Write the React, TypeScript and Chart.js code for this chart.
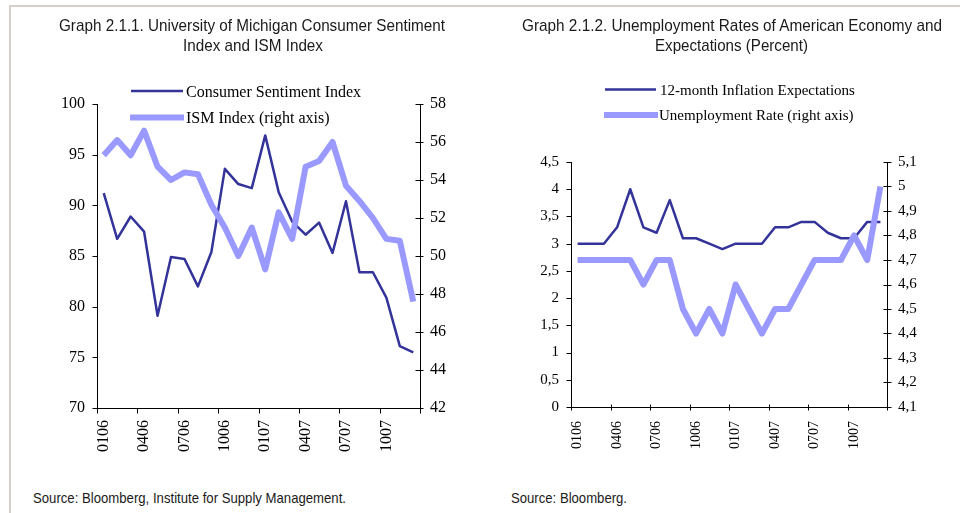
import React, { useEffect, useLayoutEffect, useRef } from "react";
import { Chart, registerables } from "chart.js";

Chart.register(...registerables);

// ---------- data ----------
const months = [
  "0106", "0206", "0306", "0406", "0506", "0606", "0706", "0806", "0906", "1006", "1106", "1206",
  "0107", "0207", "0307", "0407", "0507", "0607", "0707", "0807", "0907", "1007", "1107", "1207",
];
const consumerSentiment = [
  91.2, 86.7, 88.9, 87.4, 79.1, 84.9, 84.7, 82.0, 85.4, 93.6, 92.1, 91.7,
  96.9, 91.3, 88.4, 87.1, 88.3, 85.3, 90.4, 83.4, 83.4, 80.9, 76.1, 75.5,
];
const ismIndex = [
  55.3, 56.1, 55.3, 56.6, 54.7, 54.0, 54.4, 54.3, 52.7, 51.5, 50.0, 51.5,
  49.3, 52.3, 50.9, 54.7, 55.0, 56.0, 53.7, 52.9, 52.0, 50.9, 50.8, 47.6,
];
const inflationExpectations = [
  3.0, 3.0, 3.0, 3.3, 4.0, 3.3, 3.2, 3.8, 3.1, 3.1, 3.0, 2.9,
  3.0, 3.0, 3.0, 3.3, 3.3, 3.4, 3.4, 3.2, 3.1, 3.1, 3.4, 3.4,
];
const unemploymentRate = [
  4.7, 4.7, 4.7, 4.7, 4.7, 4.6, 4.7, 4.7, 4.5, 4.4, 4.5, 4.4,
  4.6, 4.5, 4.4, 4.5, 4.5, 4.6, 4.7, 4.7, 4.7, 4.8, 4.7, 5.0,
];

const leftTitle = ["Graph 2.1.1. University of Michigan Consumer Sentiment", "Index and ISM Index"];
const rightTitle = ["Graph 2.1.2. Unemployment Rates of American Economy and", "Expectations (Percent)"];
const leftSource = "Source: Bloomberg, Institute for Supply Management.";
const rightSource = "Source: Bloomberg.";

const DARK = "#333399";
const LIGHT = "#9999FF";
const SERIF = "'Liberation Serif', 'Times New Roman', serif";
const SANS = "'Liberation Sans', Arial, sans-serif";

// ---------- plugins ----------
const axisTicksPlugin = {
  id: "axisTicks",
  afterDatasetsDraw(chart: any, _args: any, opts: any) {
    const ctx = chart.ctx;
    ctx.save();
    ctx.strokeStyle = "#000";
    ctx.lineWidth = 1;
    for (const spec of opts.specs || []) {
      const scale = chart.scales[spec.id];
      if (!scale) continue;
      ctx.beginPath();
      if (scale.isHorizontal()) {
        const n = scale.getLabels().length;
        const yAxis = Math.round(scale.top) + 0.5;
        for (let i = 0; i <= n; i += spec.every) {
          const x = Math.round(scale.getPixelForValue(i - 0.5)) + 0.5;
          ctx.moveTo(x, yAxis - spec.inner);
          ctx.lineTo(x, yAxis + spec.outer);
        }
      } else {
        const left = scale.position === "left";
        const xAxis = Math.round(left ? scale.right : scale.left) + 0.5;
        for (const t of scale.ticks) {
          const y = Math.round(scale.getPixelForValue(t.value)) + 0.5;
          if (left) {
            ctx.moveTo(xAxis - spec.outer, y);
            ctx.lineTo(xAxis + spec.inner, y);
          } else {
            ctx.moveTo(xAxis - spec.inner, y);
            ctx.lineTo(xAxis + spec.outer, y);
          }
        }
      }
      ctx.stroke();
    }
    ctx.restore();
  },
};

const inlineLegendPlugin = {
  id: "inlineLegend",
  afterDraw(chart: any, _args: any, opts: any) {
    const ctx = chart.ctx;
    ctx.save();
    const items = opts.items || [];
    chart.data.datasets.forEach((ds: any, i: number) => {
      const it = items[i];
      if (!it) return;
      ctx.strokeStyle = ds.borderColor;
      ctx.lineWidth = ds.borderWidth;
      ctx.lineCap = "butt";
      ctx.beginPath();
      ctx.moveTo(it.x1, it.y);
      ctx.lineTo(it.x2, it.y);
      ctx.stroke();
      ctx.fillStyle = "#000";
      ctx.font = opts.font;
      ctx.textBaseline = "middle";
      ctx.textAlign = "left";
      ctx.fillText(ds.label, it.tx, it.ty);
    });
    ctx.restore();
  },
};

function fmtComma(v: number) {
  const n = Number(v.toFixed(2));
  return String(n).replace(".", ",");
}

function makeConfig(p: any) {
  return {
    type: "line",
    data: {
      labels: months,
      datasets: [
        {
          label: p.label1,
          data: p.data1,
          yAxisID: "y",
          borderColor: DARK,
          backgroundColor: DARK,
          borderWidth: 2.5,
          pointRadius: 0,
          tension: 0,
          borderJoinStyle: "round",
          order: 1,
        },
        {
          label: p.label2,
          data: p.data2,
          yAxisID: "y1",
          borderColor: LIGHT,
          backgroundColor: LIGHT,
          borderWidth: 6,
          pointRadius: 0,
          tension: 0,
          borderJoinStyle: "round",
          order: 0,
        },
      ],
    },
    options: {
      responsive: false,
      animation: false,
      devicePixelRatio: 1,
      layout: { padding: { top: p.top, left: 0, right: 0, bottom: 0 } },
      plugins: {
        legend: { display: false },
        title: { display: false },
        tooltip: { enabled: false },
        axisTicks: { specs: p.tickSpecs },
        inlineLegend: { items: p.legendItems, font: `${p.legendFont}px ${SERIF}` },
      },
      scales: {
        x: {
          type: "category",
          offset: true,
          grid: { display: false, drawTicks: false, offset: true },
          border: { display: true, color: "#000", width: 1 },
          ticks: {
            autoSkip: false,
            minRotation: 90,
            maxRotation: 90,
            padding: p.xPad,
            color: "#000",
            font: { family: SERIF, size: p.xFont },
            callback: (_v: any, i: number) => (i % 3 === 0 ? months[i] : ""),
          },
          afterFit: (s: any) => {
            s.height = p.xHeight;
            s.paddingLeft = 0;
            s.paddingRight = 0;
          },
        },
        y: {
          type: "linear",
          position: "left",
          min: p.yMin,
          max: p.yMax,
          grid: { display: false, drawTicks: false },
          border: { display: true, color: "#000", width: 1 },
          ticks: {
            stepSize: p.yStep,
            padding: p.yPad,
            color: "#000",
            font: { family: SERIF, size: p.yFont },
            callback: (v: number) => fmtComma(v),
          },
          afterFit: (s: any) => {
            s.width = p.yWidth;
            s.paddingTop = 0;
            s.paddingBottom = 0;
          },
        },
        y1: {
          type: "linear",
          position: "right",
          min: p.y1Min,
          max: p.y1Max,
          grid: { display: false, drawTicks: false },
          border: { display: true, color: "#000", width: 1 },
          ticks: {
            stepSize: p.y1Step,
            padding: p.y1Pad,
            color: "#000",
            font: { family: SERIF, size: p.yFont },
            callback: (v: number) => fmtComma(v),
          },
          afterFit: (s: any) => {
            s.width = p.y1Width;
            s.paddingTop = 0;
            s.paddingBottom = 0;
          },
        },
      },
    },
    plugins: [axisTicksPlugin, inlineLegendPlugin],
  } as any;
}

// A line of narrow text squeezed horizontally to a target width.
function NarrowLine(props: { text: string; left: number; top: number; width: number; size: number }) {
  const ref = useRef<HTMLSpanElement>(null);
  useLayoutEffect(() => {
    const el = ref.current;
    if (!el) return;
    el.style.transform = "none";
    const w = el.getBoundingClientRect().width;
    if (w > 0) el.style.transform = `scaleX(${props.width / w})`;
  }, [props.text, props.width]);
  return (
    <span
      ref={ref}
      style={{
        position: "absolute",
        left: props.left,
        top: props.top,
        fontFamily: SANS,
        fontSize: props.size,
        lineHeight: "20px",
        color: "#1a1a1a",
        whiteSpace: "nowrap",
        transformOrigin: "0 50%",
        display: "inline-block",
      }}
    >
      {props.text}
    </span>
  );
}

export default function App() {
  const leftRef = useRef<HTMLCanvasElement>(null);
  const rightRef = useRef<HTMLCanvasElement>(null);

  useEffect(() => {
    document.body.style.margin = "0";
    const c1 = new Chart(
      leftRef.current as HTMLCanvasElement,
      makeConfig({
        label1: "Consumer Sentiment Index",
        label2: "ISM Index (right axis)",
        data1: consumerSentiment,
        data2: ismIndex,
        top: 104,
        yMin: 70, yMax: 100, yStep: 5,
        y1Min: 42, y1Max: 58, y1Step: 2,
        yWidth: 97, y1Width: 60, xHeight: 62,
        yPad: 12, y1Pad: 10, xPad: 12,
        xFont: 16, yFont: 16, legendFont: 16,
        tickSpecs: [
          { id: "x", inner: 0, outer: 5, every: 3 },
          { id: "y", inner: 0, outer: 5 },
          { id: "y1", inner: 5, outer: 3 },
        ],
        legendItems: [
          { x1: 131, x2: 183, y: 91, tx: 186, ty: 93 },
          { x1: 130, x2: 184, y: 117.5, tx: 186, ty: 118.5 },
        ],
      })
    );
    const c2 = new Chart(
      rightRef.current as HTMLCanvasElement,
      makeConfig({
        label1: "12-month Inflation Expectations",
        label2: "Unemployment Rate (right axis)",
        data1: inflationExpectations,
        data2: unemploymentRate,
        top: 162,
        yMin: 0, yMax: 4.5, yStep: 0.5,
        y1Min: 4.1, y1Max: 5.1, y1Step: 0.1,
        yWidth: 91, y1Width: 73, xHeight: 63,
        yPad: 12, y1Pad: 11, xPad: 14,
        xFont: 14, yFont: 15, legendFont: 15,
        tickSpecs: [
          { id: "x", inner: 3, outer: 3, every: 3 },
          { id: "y", inner: 0, outer: 5 },
          { id: "y1", inner: 4, outer: 4 },
        ],
        legendItems: [
          { x1: 125, x2: 176, y: 89.5, tx: 180, ty: 91 },
          { x1: 124, x2: 178, y: 115, tx: 179, ty: 116 },
        ],
      })
    );
    return () => {
      c1.destroy();
      c2.destroy();
    };
  }, []);

  return (
    <div style={{ position: "relative", width: 960, height: 513, background: "#fff", overflow: "hidden" }}>
      <div style={{ position: "absolute", left: 9, top: 5, width: 951, height: 2, background: "#d4d0c8" }} />
      <div style={{ position: "absolute", left: 9, top: 5, width: 2, height: 508, background: "#d4d0c8" }} />
      <canvas ref={leftRef} width={480} height={470} style={{ position: "absolute", left: 0, top: 0, display: "block" }} />
      <canvas ref={rightRef} width={480} height={470} style={{ position: "absolute", left: 480, top: 0, display: "block" }} />
      <NarrowLine text={leftTitle[0]} left={59} top={16} width={386} size={17} />
      <NarrowLine text={leftTitle[1]} left={183} top={36} width={140} size={17} />
      <NarrowLine text={rightTitle[0]} left={522} top={16} width={420} size={17} />
      <NarrowLine text={rightTitle[1]} left={655} top={36} width={153} size={17} />
      <NarrowLine text={leftSource} left={33} top={488} width={313} size={15} />
      <NarrowLine text={rightSource} left={511} top={488} width={116} size={15} />
    </div>
  );
}
